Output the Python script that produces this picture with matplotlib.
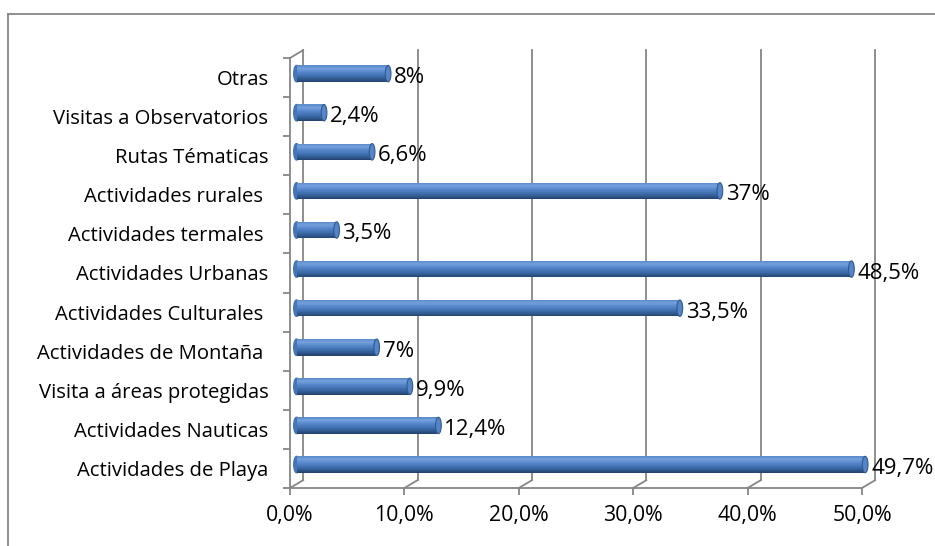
import numpy as np
import matplotlib
matplotlib.use("Agg")
import matplotlib.pyplot as plt
from matplotlib.colors import LinearSegmentedColormap
from matplotlib.patches import Ellipse
from matplotlib.lines import Line2D

plt.rcParams['font.family'] = ['Open Sans', 'DejaVu Sans']

# Actividades, de abajo hacia arriba
categories = [
    "Actividades de Playa",
    "Actividades Nauticas",
    "Visita a áreas protegidas",
    "Actividades de Montaña ",
    "Actividades Culturales ",
    "Actividades Urbanas",
    "Actividades termales ",
    "Actividades rurales ",
    "Rutas Tématicas",
    "Visitas a Observatorios",
    "Otras",
]
values = [49.7, 12.4, 9.9, 7, 33.5, 48.5, 3.5, 37, 6.6, 2.4, 8]
xticks = [0, 10, 20, 30, 40, 50]

GRID = "#868686"
DEPTH_X = 1.15   # profundidad del "3D" en unidades de x
DEPTH_Y = 0.2    # profundidad en unidades de categoria
BAR_H = 0.42
N_STRIPS = 24

def pct(v, dec=None):
    if dec is None:
        s = f"{v:g}"
    else:
        s = f"{v:.{dec}f}"
    return s.replace(".", ",") + "%"

fig = plt.figure(figsize=(9.35, 5.46), dpi=100)
ax = fig.add_axes([290/935, 58/546, 572/935, 430/546])
ax.set_xlim(0, 50)
ax.set_ylim(-0.5, len(categories) - 0.5)

for s in ["top", "right"]:
    ax.spines[s].set_visible(False)
for s in ["left", "bottom"]:
    ax.spines[s].set_color(GRID)
    ax.spines[s].set_linewidth(1.3)

ymin, ymax = -0.5, len(categories) - 0.5

# pared del fondo y suelo
for x in xticks:
    ax.plot([x + DEPTH_X, x + DEPTH_X], [ymin + DEPTH_Y, ymax + DEPTH_Y],
            color=GRID, lw=1.3, clip_on=False, zorder=1)
    ax.plot([x, x + DEPTH_X], [ymin, ymin + DEPTH_Y],
            color=GRID, lw=1.3, clip_on=False, zorder=1)
ax.plot([0, DEPTH_X], [ymax, ymax + DEPTH_Y], color=GRID, lw=1.3,
        clip_on=False, zorder=1)

# barras cilindricas con degradado
cmap = LinearSegmentedColormap.from_list("cyl", [
    (0.0, "#22436e"), (0.3, "#3a69a6"), (0.6, "#5687cb"),
    (0.82, "#74a0dc"), (1.0, "#5a89c9")])
edges = np.linspace(-BAR_H/2, BAR_H/2, N_STRIPS + 1)
for i, v in enumerate(values):
    yc = i + DEPTH_Y/2
    x0 = DEPTH_X/2
    ax.add_patch(Ellipse((x0, yc), 0.5, BAR_H, color="#4475b6",
                         zorder=2.9, clip_on=False))
    for k in range(N_STRIPS):
        ax.barh(yc + (edges[k] + edges[k+1])/2, v, left=x0,
                height=edges[k+1] - edges[k] + 0.002,
                color=cmap((k + 0.5)/N_STRIPS), lw=0, zorder=3, clip_on=False)
    ax.add_patch(Ellipse((x0 + v, yc), 0.5, BAR_H, facecolor="#5585c6",
                         edgecolor="#2f5a92", lw=0.8, zorder=3.1, clip_on=False))
    ax.annotate(pct(v), (v, i), xytext=(9, 0), textcoords="offset points",
                va="center", ha="left", fontsize=16, color="black",
                zorder=5, annotation_clip=False)

ax.set_xticks(xticks, [pct(x, 1) for x in xticks])
ax.tick_params(axis="x", length=5, width=1.3, color=GRID, labelsize=15.3,
               pad=7)
ax.set_yticks(range(len(categories)), categories)
ax.set_yticks(np.arange(len(categories) + 1) - 0.5, minor=True)
ax.tick_params(axis="y", which="major", length=0, labelsize=14.6, pad=15.5)
ax.tick_params(axis="y", which="minor", length=5, width=1.3, color=GRID)

# marco del grafico
fig.add_artist(Line2D([8/935, 1], [1 - 14/546, 1 - 14/546], color=GRID, lw=1.3))
fig.add_artist(Line2D([8/935, 8/935], [0, 1 - 14/546], color=GRID, lw=1.3))

fig.savefig("out.png", dpi=100)
